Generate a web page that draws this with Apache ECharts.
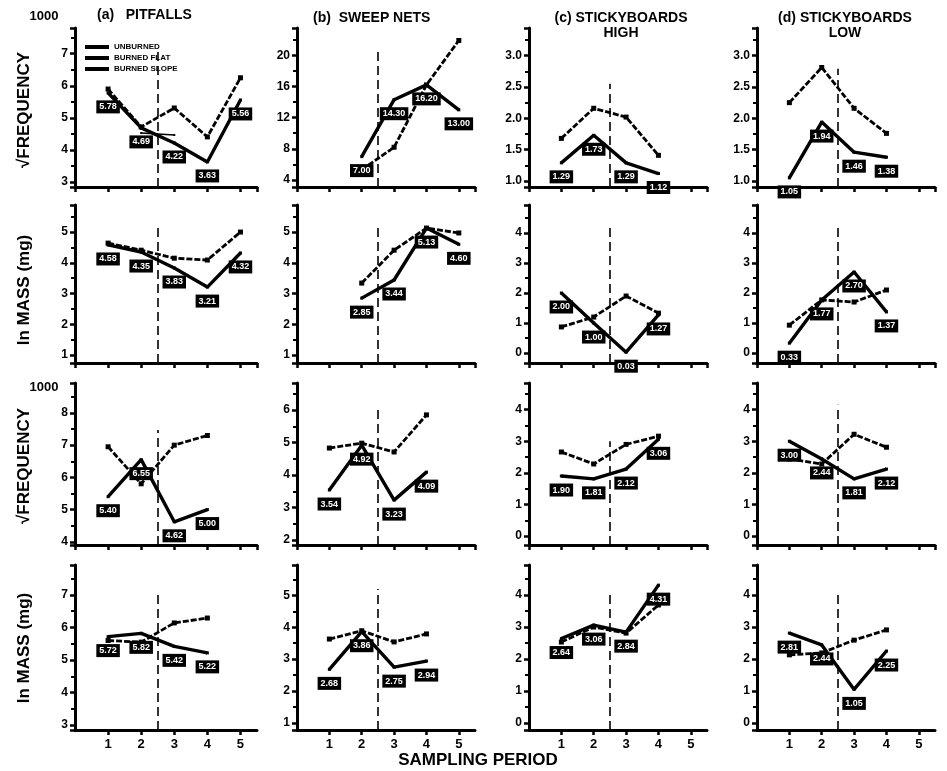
<!DOCTYPE html>
<html><head><meta charset="utf-8">
<script src="https://cdn.jsdelivr.net/npm/echarts@6/dist/echarts.min.js"></script>
<style>html,body{margin:0;padding:0;background:#fff}#c{width:947px;height:771px}</style>
</head><body><div id="c"></div><script>
// ---------- data ----------
const periods = [1, 2, 3, 4, 5];
const xTickLabels = ['1', '2', '3', '4', '5'];
const seriesNames = ['UNBURNED', 'BURNED FLAT', 'BURNED SLOPE'];
const panelTitles = ['(a)   PITFALLS', '(b)  SWEEP NETS', '(c) STICKYBOARDS\nHIGH', '(d) STICKYBOARDS\nLOW'];
const rowNames = ['√FREQUENCY', 'ln MASS (mg)', '√FREQUENCY', 'ln MASS (mg)'];

// row 1 : sqrt frequency
const a1Solid = [5.78, 4.69, 4.22, 3.63, 5.56];
const a1Dash  = [5.90, 4.72, 5.31, 4.41, 6.25];
const a1Thin  = [null, 4.53, 4.47, null, null];
const b1Solid = [null, 7.0, 14.3, 16.2, 13.0];
const b1Dash  = [null, 5.3, 8.2, 16.2, 21.9];
const c1Solid = [1.29, 1.73, 1.29, 1.12, null];
const c1Dash  = [1.68, 2.16, 2.02, 1.41, null];
const d1Solid = [1.05, 1.94, 1.46, 1.38, null];
const d1Dash  = [2.25, 2.81, 2.16, 1.76, null];
// row 2 : ln mass
const a2Solid = [4.58, 4.35, 3.83, 3.21, 4.32];
const a2Dash  = [4.64, 4.41, 4.15, 4.09, 5.00];
const b2Solid = [null, 2.85, 3.44, 5.13, 4.60];
const b2Dash  = [null, 3.34, 4.41, 5.13, 4.97];
const c2Solid = [2.00, 1.00, 0.03, 1.27, null];
const c2Dash  = [0.87, 1.20, 1.90, 1.33, null];
const d2Solid = [0.33, 1.77, 2.70, 1.37, null];
const d2Dash  = [0.93, 1.77, 1.70, 2.10, null];
// row 3 : sqrt frequency
const a3Solid = [5.40, 6.55, 4.62, 5.00, null];
const a3Dash  = [6.95, 5.80, 7.00, 7.30, null];
const b3Solid = [3.54, 4.92, 3.23, 4.09, null];
const b3Dash  = [4.83, 4.98, 4.71, 5.85, null];
const c3Solid = [1.90, 1.81, 2.12, 3.06, null];
const c3Dash  = [2.66, 2.28, 2.90, 3.16, null];
const d3Solid = [3.00, 2.44, 1.81, 2.12, null];
const d3Dash  = [2.44, 2.28, 3.22, 2.81, null];
// row 4 : ln mass
const a4Solid = [5.72, 5.82, 5.42, 5.22, null];
const a4Dash  = [5.60, 5.55, 6.14, 6.29, null];
const b4Solid = [2.68, 3.86, 2.75, 2.94, null];
const b4Dash  = [3.63, 3.89, 3.54, 3.79, null];
const c4Solid = [2.64, 3.06, 2.84, 4.31, null];
const c4Dash  = [2.53, 3.00, 2.81, 3.69, null];
const d4Solid = [2.81, 2.44, 1.05, 2.25, null];
const d4Dash  = [2.13, 2.19, 2.59, 2.91, null];

// y-axis scales per panel: [min, max, step, decimals]
const yScales = [
  [[2.85, 7.8, 1, 0], [3.1, 23.5, 4, 0], [0.905, 3.44, 0.5, 1], [0.905, 3.44, 0.5, 1]],
  [[0.74, 5.88, 1, 0], [0.74, 5.88, 1, 0], [-0.33, 4.93, 1, 0], [-0.33, 4.93, 1, 0]],
  [[3.9, 8.93, 1, 0], [1.85, 6.83, 1, 0], [-0.28, 4.84, 1, 0], [-0.28, 4.84, 1, 0]],
  [[2.85, 7.92, 1, 0], [0.78, 5.95, 1, 0], [-0.22, 4.94, 1, 0], [-0.22, 4.94, 1, 0]]
];
const panelData = [
  [[a1Solid, a1Dash, a1Thin], [b1Solid, b1Dash], [c1Solid, c1Dash], [d1Solid, d1Dash]],
  [[a2Solid, a2Dash], [b2Solid, b2Dash], [c2Solid, c2Dash], [d2Solid, d2Dash]],
  [[a3Solid, a3Dash], [b3Solid, b3Dash], [c3Solid, c3Dash], [d3Solid, d3Dash]],
  [[a4Solid, a4Dash], [b4Solid, b4Dash], [c4Solid, c4Dash], [d4Solid, d4Dash]]
];
// ---------- layout ----------
const colLeft = [75, 297, 529, 757];
const colWidth = [182, 178, 178, 178];
const rowTop = [28, 205, 383, 565];
const rowBottom = [187, 363, 545, 730];
const dashTop = [
  [7.1, 20.7, 2.55, 2.79],
  [5.16, 5.2, 4.17, 4.2],
  [7.47, 6.1, 3.0, 4.15],
  [7.15, 5.2, 4.1, 4.1]
];

const FONT = 'Liberation Sans';
const grids = [], xAxes = [], yAxes = [], series = [];
let gi = 0;
for (let r = 0; r < 4; r++) {
  for (let c = 0; c < 4; c++) {
    grids.push({left: colLeft[c], top: rowTop[r], width: colWidth[c], height: rowBottom[r] - rowTop[r], containLabel: false});
    xAxes.push({
      type: 'value', gridIndex: gi, min: 0, max: 5.5, minInterval: 1, maxInterval: 1,
      axisLine: {show: true, onZero: false, lineStyle: {color: '#000', width: 3}},
      axisTick: {show: true, length: 5, lineStyle: {color: '#000', width: 2.5}},
      splitLine: {show: false},
      axisLabel: {show: r === 3, showMinLabel: false, showMaxLabel: false, color: '#000', fontFamily: FONT, fontWeight: 'bold', fontSize: 13, margin: 8,
        formatter: v => (v >= 1 && v <= 5 && Number.isInteger(v)) ? xTickLabels[v - 1] : ''}
    });
    const [ymin, ymax, step, dec] = yScales[r][c];
    yAxes.push({
      type: 'value', gridIndex: gi, min: ymin, max: ymax, minInterval: step, maxInterval: step,
      axisLine: {show: true, onZero: false, lineStyle: {color: '#000', width: 3}},
      axisTick: {show: true, length: 5, lineStyle: {color: '#000', width: 2.5}},
      minorTick: {show: true, splitNumber: 2, length: 4, lineStyle: {color: '#000', width: 2}},
      splitLine: {show: false},
      axisLabel: {showMinLabel: false, showMaxLabel: false, color: '#000', fontFamily: FONT, fontWeight: 'bold', fontSize: 12, margin: 7,
        formatter: v => v.toFixed(dec)}
    });
    const sets = panelData[r][c];
    sets.forEach((arr, k) => {
      const s = {
        name: seriesNames[k], type: 'line', xAxisIndex: gi, yAxisIndex: gi,
        data: periods.map((p, i) => [p, arr[i]]),
        connectNulls: false, animation: false, silent: true
      };
      if (k === 0) {
        Object.assign(s, {
          symbol: 'rect', symbolSize: 3, showSymbol: true,
          lineStyle: {color: '#000', width: 3.4}, itemStyle: {color: '#000'},
          label: {show: true, position: 'bottom', distance: 6, color: '#fff', backgroundColor: '#000',
            fontFamily: FONT, fontWeight: 'bold', fontSize: 9, padding: [2, 3],
            formatter: p => (p.value[1] == null ? '' : p.value[1].toFixed(2))},
          markLine: {silent: true, symbol: 'none', animation: false, label: {show: false},
            lineStyle: {color: '#000', width: 1.6, type: [9, 5]},
            data: [[{coord: [2.5, ymin]}, {coord: [2.5, dashTop[r][c]]}]]}
        });
      } else if (k === 1) {
        Object.assign(s, {
          symbol: 'rect', symbolSize: 5, showSymbol: true,
          lineStyle: {color: '#000', width: 2.8, type: [6, 2]}, itemStyle: {color: '#000'}
        });
      } else {
        Object.assign(s, {
          symbol: 'rect', symbolSize: 2, showSymbol: true,
          lineStyle: {color: '#000', width: 1.6}, itemStyle: {color: '#000'}
        });
      }
      series.push(s);
    });
    gi++;
  }
}

const graphics = [];
// column titles
const titlePos = [[97, 8, 'left'], [313, 11, 'left'], [621, 11, 'center'], [845, 11, 'center']];
panelTitles.forEach((t, i) => {
  graphics.push({type: 'text', x: titlePos[i][0], y: titlePos[i][1], silent: true,
    style: {text: t, fill: '#000', font: 'bold 14px "' + FONT + '"', textAlign: titlePos[i][2], textVerticalAlign: 'top', lineHeight: 15}});
});
// row names
const rowNameY = [110, 290, 466, 648];
rowNames.forEach((t, i) => {
  graphics.push({type: 'text', x: 24, y: rowNameY[i], rotation: Math.PI / 2, silent: true,
    style: {text: t, fill: '#000', font: 'bold 17px "' + FONT + '"', textAlign: 'center', textVerticalAlign: 'middle'}});
});
// multipliers
[[44, 16], [44, 387]].forEach(p => {
  graphics.push({type: 'text', x: p[0], y: p[1], silent: true,
    style: {text: '1000', fill: '#000', font: 'bold 13px "' + FONT + '"', textAlign: 'center', textVerticalAlign: 'middle'}});
});
// x axis name
graphics.push({type: 'text', x: 478, y: 760, silent: true,
  style: {text: 'SAMPLING PERIOD', fill: '#000', font: 'bold 17px "' + FONT + '"', textAlign: 'center', textVerticalAlign: 'middle'}});

const chart = echarts.init(document.getElementById('c'), null, {renderer: 'canvas'});
chart.setOption({
  backgroundColor: '#fff',
  animation: false,
  grid: grids, xAxis: xAxes, yAxis: yAxes, series: series,
  legend: {
    show: true, data: seriesNames, left: 80, top: 38, orient: 'vertical', itemGap: 3, itemWidth: 24, itemHeight: 4,
    icon: 'rect', selectedMode: false,
    textStyle: {color: '#000', fontFamily: FONT, fontWeight: 'bold', fontSize: 8}
  },
  graphic: graphics
});
</script></body></html>
